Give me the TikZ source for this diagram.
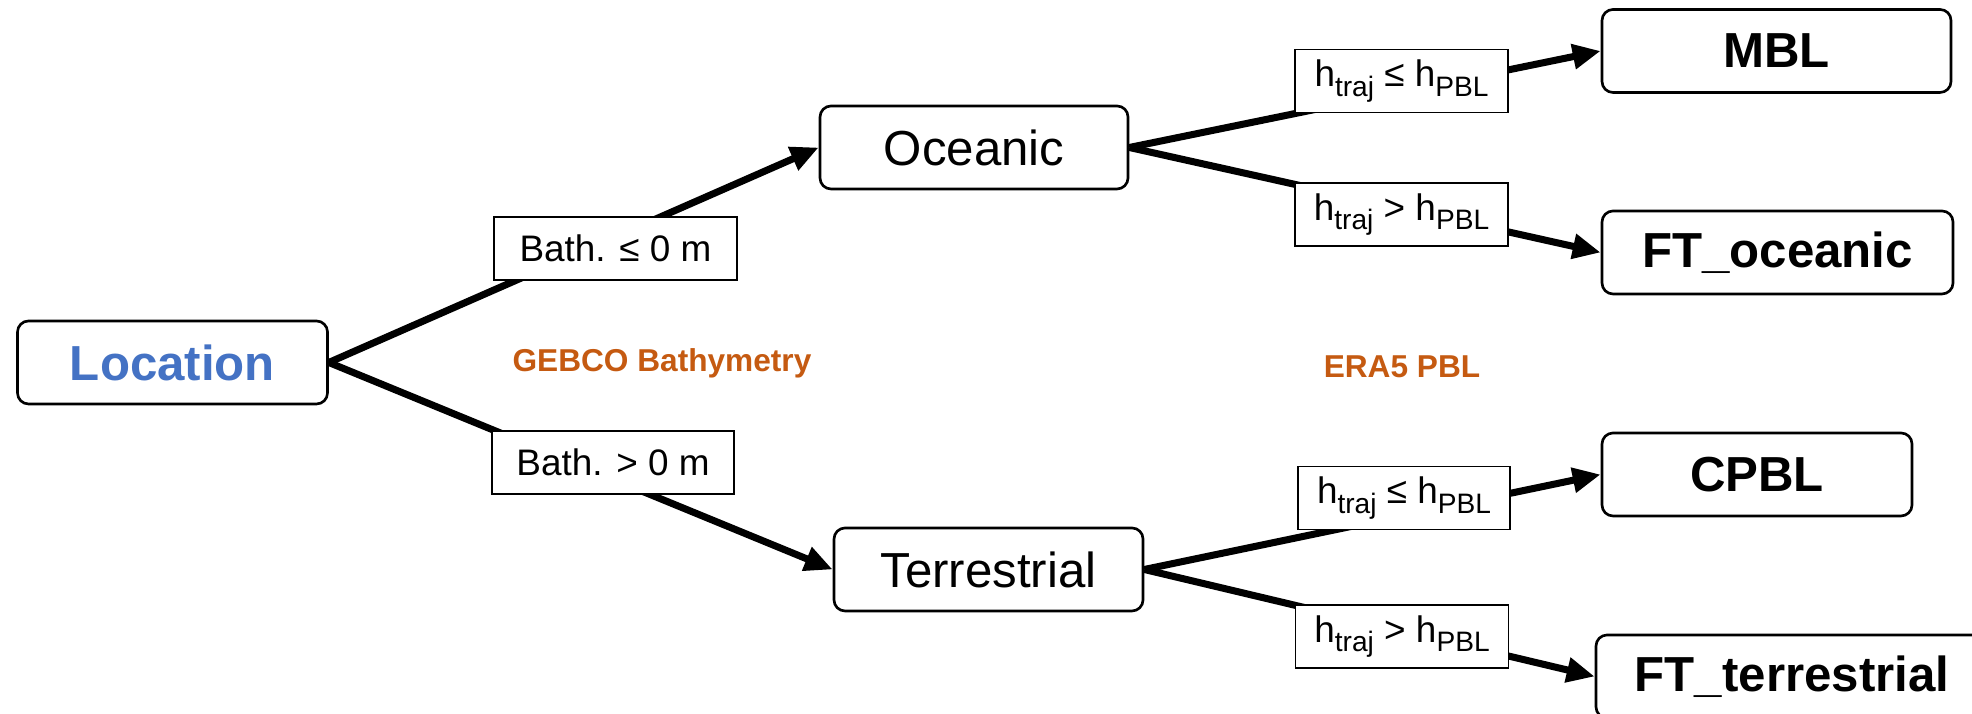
\documentclass[tikz,border=0pt]{standalone}
\usepackage{fontspec}
\setmainfont{Liberation Sans}
\usepackage{tikz}
\usetikzlibrary{arrows.meta}
\definecolor{locblue}{HTML}{4472C4}
\definecolor{srcorange}{HTML}{C55A11}
\newcommand*{\SubTxt}[1]{\raisebox{-2.6pt}{\fontsize{8}{9}\selectfont #1}}
\newcommand*{\CondColumn}[1]{% #1 = list of name/x/y/width/text
\foreach \nm/\x/\y/\w/\txt in {#1} {
\node [cond, minimum width=\w cm] (\nm) at (\x,\y) {\txt};
}%
}

\begin{document}
\begin{tikzpicture}[
    box/.style={draw, rounded corners=0.11cm, line width=0.75pt, fill=white,
        minimum height=0.83cm, inner sep=0pt},
    cond/.style={draw, line width=0.55pt, fill=white, minimum height=0.63cm,
        inner sep=0pt, font=\fontsize{10.5}{12}\selectfont},
    src/.style={text=srcorange, font=\bfseries\fontsize{9}{11}\selectfont},
    link/.style={line width=2pt, -{Triangle[length=0.28cm,width=0.24cm]}}
]
            \useasboundingbox (0,0) rectangle (19.72,7.14);
            \clip (0,0) rectangle (19.72,7.14);

            % main boxes
            \node [box, minimum width=3.10cm, text=locblue,
                font=\bfseries\fontsize{14}{16}\selectfont] (loc) at (1.725,3.515) {Location};
            \node [box, minimum width=3.08cm, font=\fontsize{14}{16}\selectfont] (oce) at (9.74,5.665) {Oceanic};
            \node [box, minimum width=3.09cm, font=\fontsize{14}{16}\selectfont] (ter) at (9.885,1.445) {Terrestrial};

            % classes
            \node [box, minimum width=3.49cm, font=\bfseries\fontsize{14}{16}\selectfont] (mbl) at (17.765,6.63) {MBL};
            \node [box, minimum width=3.51cm, font=\bfseries\fontsize{14}{16}\selectfont] (fto) at (17.775,4.615) {FT\_oceanic};
            \node [box, minimum width=3.10cm, font=\bfseries\fontsize{14}{16}\selectfont] (cpbl) at (17.57,2.395) {CPBL};
            \node [box, minimum width=3.92cm, font=\bfseries\fontsize{14}{16}\selectfont] (ftt) at (17.92,0.375) {FT\_terrestrial};

            \foreach \a/\b in {loc/oce, loc/ter, oce/mbl, oce/fto, ter/cpbl, ter/ftt}
                \draw [link] (\a.east) -- (\b.west);

            % conditions on the links
            \CondColumn{c1/6.155/4.655/2.43/{Bath. ≤ 0 m}, c2/6.13/2.515/2.42/{Bath. > 0 m}}
            \CondColumn{c3/14.015/6.33/2.13/{h\SubTxt{traj} ≤ h\SubTxt{PBL}},
                c4/14.015/4.995/2.13/{h\SubTxt{traj} > h\SubTxt{PBL}}}
            \CondColumn{c5/14.04/2.16/2.12/{h\SubTxt{traj} ≤ h\SubTxt{PBL}},
                c6/14.02/0.775/2.13/{h\SubTxt{traj} > h\SubTxt{PBL}}}

            \node [src] (gebco) at (6.62,3.51) {GEBCO Bathymetry};
            \node [src] (era) at (14.02,3.475) {ERA5 PBL};
        \end{tikzpicture}
\end{document}
